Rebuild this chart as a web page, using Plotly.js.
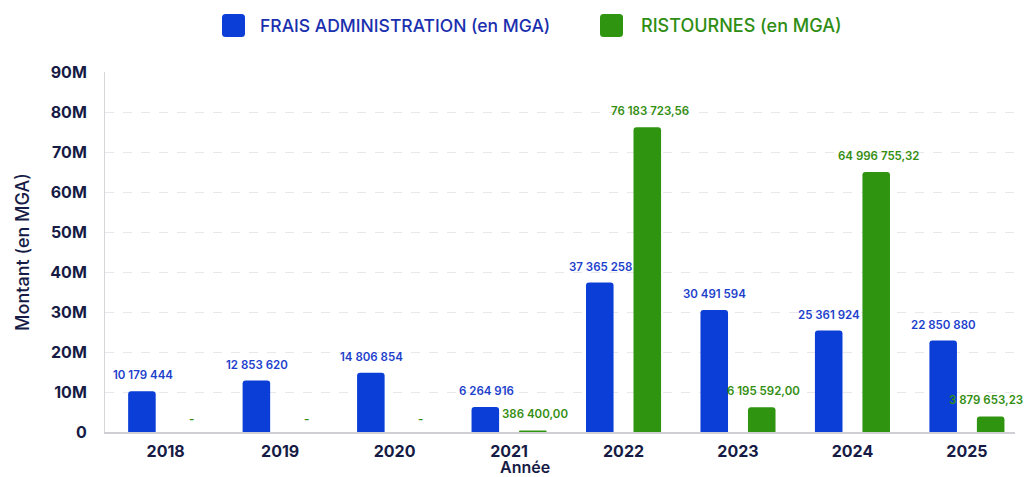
<!DOCTYPE html>
<html>
<head>
<meta charset="utf-8">
<script src="https://cdn.plot.ly/plotly-3.0.1.min.js"></script>
<style>
html,body{margin:0;padding:0;background:#fff;}
#chart{width:1028px;height:477px;}
</style>
</head>
<body>
<div id="chart"></div>
<script>
// ---- data ----
const years = ['2018', '2019', '2020', '2021', '2022', '2023', '2024', '2025'];
const fraisAdministration = [10179444, 12853620, 14806854, 6264916, 37365258, 30491594, 25361924, 22850880];
const ristournes = [0, 0, 0, 386400.00, 76183723.56, 6195592.00, 64996755.32, 3879653.23];
const seriesNames = ['FRAIS ADMINISTRATION (en MGA)', 'RISTOURNES (en MGA)'];
const yTickVals = [0, 10e6, 20e6, 30e6, 40e6, 50e6, 60e6, 70e6, 80e6, 90e6];
const yTickText = ['0', '10M', '20M', '30M', '40M', '50M', '60M', '70M', '80M', '90M'];

// ---- helpers ----
function fmt(v, dec) {
  const s = v.toFixed(dec);
  const parts = s.split('.');
  const i = parts[0].replace(/\B(?=(\d{3})+(?!\d))/g, ' ');
  return parts[1] ? i + ',' + parts[1] : i;
}

const BLUE = '#0a3ed6';
const GREEN = '#2f9410';
const BLUE_TXT = '#1d3fcc';
const GREEN_TXT = '#348e12';
const NAVY = '#161b45';
const FONT = 'Inter, "Open Sans", sans-serif';

const traceFrais = {
  type: 'bar',
  x: years,
  y: fraisAdministration,
  name: seriesNames[0],
  marker: {color: BLUE, cornerradius: 3},
  showlegend: false
};
const traceRist = {
  type: 'bar',
  x: years,
  y: ristournes,
  name: seriesNames[1],
  marker: {color: GREEN, cornerradius: 3},
  showlegend: false
};

// plot area pixel geometry
const L = 105, R = 1015, T = 72, B = 432;
const px = x => (x - L) / (R - L);
const py = y => (B - y) / (B - T);

// rounded square (legend swatch) as a paper-coordinate path
function roundRect(x0, y0, x1, y1, r) {
  const P = (x, y) => px(x) + ',' + py(y);
  return 'M' + P(x0 + r, y0) + ' L' + P(x1 - r, y0) + ' Q' + P(x1, y0) + ' ' + P(x1, y0 + r) +
    ' L' + P(x1, y1 - r) + ' Q' + P(x1, y1) + ' ' + P(x1 - r, y1) +
    ' L' + P(x0 + r, y1) + ' Q' + P(x0, y1) + ' ' + P(x0, y1 - r) +
    ' L' + P(x0, y0 + r) + ' Q' + P(x0, y0) + ' ' + P(x0 + r, y0) + ' Z';
}

// value labels (placed via the data axes; category axis uses serial index)
const valueLabels = [];
years.forEach((yr, i) => {
  valueLabels.push({
    xref: 'x', yref: 'y', x: i, y: fraisAdministration[i],
    xshift: -23, yshift: 16, xanchor: 'center', yanchor: 'middle',
    text: fmt(fraisAdministration[i], 0), showarrow: false,
    font: {size: 11.5, weight: 600, color: BLUE_TXT, family: FONT}
  });
  valueLabels.push({
    xref: 'x', yref: 'y', x: i, y: ristournes[i],
    xshift: i === years.length - 1 ? 19 : 26, yshift: ristournes[i] === 0 ? 13 : 16,
    xanchor: 'center', yanchor: 'middle',
    text: ristournes[i] === 0 ? '-' : fmt(ristournes[i], 2), showarrow: false,
    font: {size: 11.5, weight: 600, color: GREEN_TXT, family: FONT}
  });
});

const layout = {
  width: 1028,
  height: 477,
  margin: {l: L, r: 1028 - R, t: T, b: 477 - B, pad: 0},
  paper_bgcolor: '#ffffff',
  plot_bgcolor: '#ffffff',
  font: {family: FONT, color: NAVY},
  barmode: 'group',
  bargap: 0.17,
  bargroupgap: 0.42,
  showlegend: false,
  xaxis: {
    type: 'category',
    range: [-0.53, 7.42],
    showgrid: false,
    showline: true,
    linecolor: '#cfcfd4',
    linewidth: 1.5,
    ticks: '',
    ticklabelstandoff: 4,
    tickfont: {size: 16, weight: 700, color: NAVY, family: FONT},
    automargin: false
  },
  yaxis: {
    range: [0, 90e6],
    tickvals: yTickVals,
    ticktext: yTickText,
    showgrid: true,
    gridcolor: '#e8e8ec',
    griddash: 'dash',
    gridwidth: 1,
    zeroline: false,
    showline: true,
    linecolor: '#d6d6da',
    linewidth: 1,
    ticks: '',
    ticklabelstandoff: 14,
    tickfont: {size: 16, weight: 700, color: NAVY, family: FONT},
    title: {text: 'Montant (en MGA)', font: {size: 18, weight: 500, color: NAVY, family: FONT}, standoff: 15},
    automargin: false
  },
  shapes: [
    {type: 'path', xref: 'paper', yref: 'paper', path: roundRect(222, 14, 245, 37, 3.5),
     fillcolor: BLUE, line: {width: 0}},
    {type: 'path', xref: 'paper', yref: 'paper', path: roundRect(600, 14, 623, 37, 3.5),
     fillcolor: GREEN, line: {width: 0}}
  ],
  annotations: valueLabels.concat([
    {xref: 'paper', yref: 'paper', x: px(258), y: py(25.5), xanchor: 'left', yanchor: 'middle',
     text: seriesNames[0], showarrow: false,
     font: {size: 17.5, weight: 500, color: '#1a2fae', family: FONT}},
    {xref: 'paper', yref: 'paper', x: px(639), y: py(25.5), xanchor: 'left', yanchor: 'middle',
     text: seriesNames[1], showarrow: false,
     font: {size: 18, weight: 500, color: '#2f8d14', family: FONT}},
    {xref: 'paper', yref: 'paper', x: px(525), y: py(467), xanchor: 'center', yanchor: 'middle',
     text: 'Année', showarrow: false,
     font: {size: 16, weight: 600, color: NAVY, family: FONT}}
  ])
};

Plotly.newPlot('chart', [traceFrais, traceRist], layout, {displayModeBar: false, staticPlot: true});
</script>
</body>
</html>
